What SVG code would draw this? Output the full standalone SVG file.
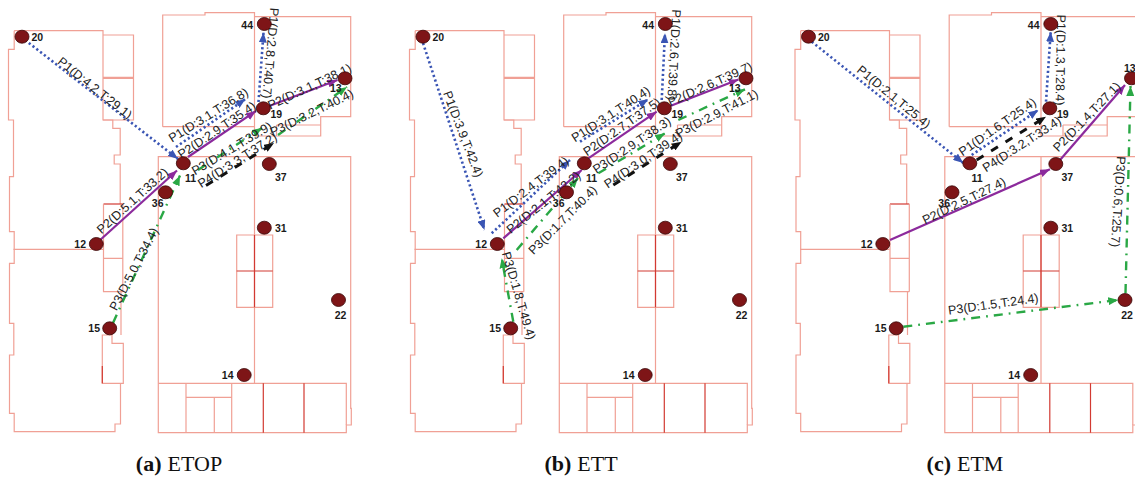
<svg xmlns="http://www.w3.org/2000/svg" xmlns:xlink="http://www.w3.org/1999/xlink" width="1135" height="480" viewBox="0 0 1135 480">
<style>
.w{fill:none;stroke:#f0a095;stroke-width:1.2}
.d{fill:none;stroke:#d23a32;stroke-width:1.2}
.n ellipse{fill:#7e1517;stroke:#3a0808;stroke-width:0.8}
.n text{font-family:"Liberation Sans",Arial,sans-serif;font-size:10.5px;font-weight:bold;fill:#1a1a1a}
.lb{font-family:"Liberation Sans",Arial,sans-serif;font-size:12.5px;fill:#222;text-anchor:middle}
.p1{fill:none;stroke:#3a55b4;stroke-width:2.6;stroke-dasharray:2.2 2.6;marker-end:url(#mb)}
.p2{fill:none;stroke:#8c2a9c;stroke-width:2.2;marker-end:url(#mp)}
.p3{fill:none;stroke:#2aa845;stroke-width:2.4;stroke-dasharray:9 6 1.8 6;marker-end:url(#mg)}
.p4{fill:none;stroke:#111;stroke-width:3;stroke-dasharray:8 9;marker-end:url(#mk)}
.cap{font-family:"Liberation Serif","Times New Roman",serif;font-size:22px;fill:#111;text-anchor:middle}
</style>
<defs>
<marker id="mb" viewBox="0 0 10 8" refX="10" refY="4" markerWidth="10" markerHeight="8" markerUnits="userSpaceOnUse" orient="auto"><path d="M0,0 L10,4 L0,8 z" fill="#3a55b4"/></marker>
<marker id="mp" viewBox="0 0 10 8" refX="10" refY="4" markerWidth="10" markerHeight="8" markerUnits="userSpaceOnUse" orient="auto"><path d="M0,0 L10,4 L0,8 z" fill="#8c2a9c"/></marker>
<marker id="mg" viewBox="0 0 10 8" refX="10" refY="4" markerWidth="10" markerHeight="8" markerUnits="userSpaceOnUse" orient="auto"><path d="M0,0 L10,4 L0,8 z" fill="#2aa845"/></marker>
<marker id="mk" viewBox="0 0 10 8" refX="10" refY="4" markerWidth="10" markerHeight="8" markerUnits="userSpaceOnUse" orient="auto"><path d="M0,0 L10,4 L0,8 z" fill="#111"/></marker>
<g id="plan">
<path class="w" d="M14.2,30.7 H103 V120 H112.8 V128.3 H120.2 V155 H114.2 V164 H120.2 V204"/>
<path class="w" d="M14.2,30.7 V49.3 H8.5 V120 H13.5 V176.7 H9.5 V231.7 H14.2 V263.3 H9.5 V323.3 H13.8 V355 H9.5 V413.3 H14.2 V431.7 H115 V424 H120.5 V383.3"/>
<path class="w" d="M13.5,249.3 H103"/>
<path class="w" d="M103,35 H133.5 V120 H103 M103,77.3 H133.5 M103,78.5 H133.5"/>
<path class="d" d="M103.5,204 H122.8"/>
<path class="w" d="M103.5,204 V291.7 H122.8 M103.5,258.3 H122.8 M122.8,204 V291.7 M121,291.7 V335"/>
<path class="w" d="M102.3,335 H112 V343.3 H123.3 V383.3 H102.3 Z"/>
<path class="d" d="M102.3,366 V383.3"/>
<path class="w" d="M162.7,126.7 V15 H205 V12.7 H254.5 V136"/>
<path class="w" d="M254.5,16.7 H350.7 V116.7 H320.7 V136 H254.5"/>
<path class="w" d="M162.7,126.7 H254.5 M276.5,125 H320.7 M276.5,125 V136"/>
<path class="w" d="M158.3,156.7 H350.7 V408.3 H351.3 V425 H346.3 V432.7 H158.3 Z"/>
<path class="w" d="M254.5,156.7 V383.3 M158.3,383.3 H346.3 V425 M186,383.3 V432.7 M231.7,383.3 V432.7 M186,397.3 H231.7 M214.3,397.3 V432.7"/>
<path class="d" d="M263.3,383.3 V432.7 M304,383.3 V432.7"/>
<path class="w" d="M236.7,235 H272.7 V307.3 H236.7 Z"/>
<path class="d" d="M254.5,235 V307.3 M236.7,271 H272.7"/>
</g>
</defs>
<rect width="1135" height="480" fill="#fff"/>
<g id="floorplans">
<use xlink:href="#plan" href="#plan"/>
<use xlink:href="#plan" href="#plan" transform="translate(401,0)"/>
<use xlink:href="#plan" href="#plan" transform="translate(786.5,0)"/>
</g>
<g id="connectors">
<g id="connectors-a">
<path class="p1" d="M25,40 L178,159"/>
<path class="p1" d="M176,147 L245.5,99"/>
<path class="p1" d="M258.5,102 L263.5,32.5"/>
<path class="p2" d="M99,241 L177,170.5"/>
<path class="p2" d="M188,157 L256,111"/>
<path class="p2" d="M268,106.5 L337.5,80"/>
<path class="p3" d="M113,323 L180,175.5"/>
<path class="p3" d="M198,170 L262,128"/>
<path class="p3" d="M278,135 L347,87"/>
<path class="p4" d="M206,185.5 L274,143"/>
<text class="lb" transform="translate(95,88) rotate(38.5)" y="4.4">P1(D:4.2,T:29.1)</text>
<text class="lb" transform="translate(208.3,115) rotate(-32)" y="4.4">P1(D:3.1,T:36.8)</text>
<text class="lb" transform="translate(270.7,53.3) rotate(95)" y="4.4">P1(D:2.8,T:40.7)</text>
<text class="lb" transform="translate(216.7,130) rotate(-34)" y="4.4">P2(D:2.9,T:35.4)</text>
<text class="lb" transform="translate(309.5,86.5) rotate(-25)" y="4.4">P2(D:3.1,T:38.1)</text>
<text class="lb" transform="translate(231.7,148.3) rotate(-31)" y="4.4">P3(D:4.1,T:39.9)</text>
<text class="lb" transform="translate(311.7,112.5) rotate(-26)" y="4.4">P3(D:3.2,T:40.4)</text>
<text class="lb" transform="translate(237.3,160) rotate(-32.5)" y="4.4">P4(D:3.3,T:37.2)</text>
<text class="lb" transform="translate(132.3,200.7) rotate(-42)" y="4.4">P2(D:5.1,T:33.2)</text>
<text class="lb" transform="translate(133.7,269) rotate(-62.5)" y="4.4">P3(D:5.0,T:34.4)</text>
</g>
<g id="connectors-b">
<path class="p1" d="M423,43 L484.5,230"/>
<path class="p1" d="M491.7,233.3 L570,160"/>
<path class="p1" d="M580,141.7 L648.3,99.3"/>
<path class="p1" d="M661.7,100 L665,33.3"/>
<path class="p2" d="M503.3,238.3 L581.7,170"/>
<path class="p2" d="M588.3,158.3 L656.7,111.7"/>
<path class="p2" d="M668.3,106.7 L738.5,79.5"/>
<path class="p3" d="M513.3,321.7 L501.7,258.3"/>
<path class="p3" d="M516.7,250 L578,178"/>
<path class="p3" d="M598.3,173.3 L665,133.3"/>
<path class="p3" d="M678.3,120 L745,89.3"/>
<path class="p4" d="M613.3,185 L681.7,141.7"/>
<text class="lb" transform="translate(463.3,134) rotate(69)" y="4.4">P1(D:3.9,T:42.4)</text>
<text class="lb" transform="translate(530.7,186.7) rotate(-37.5)" y="4.4">P1(D:2.4,T:39.4)</text>
<text class="lb" transform="translate(543.3,202.3) rotate(-39)" y="4.4">P2(D:2.1,T:42.2)</text>
<text class="lb" transform="translate(562.5,220) rotate(-45)" y="4.4">P3(D:1.7,T:40.4)</text>
<text class="lb" transform="translate(610.7,114) rotate(-33)" y="4.4">P1(D:3.1,T:40.4)</text>
<text class="lb" transform="translate(621.7,126.7) rotate(-35)" y="4.4">P2(D:2.7,T:37.5)</text>
<text class="lb" transform="translate(631.7,145) rotate(-34)" y="4.4">P3(D:2.9,T:38.3)</text>
<text class="lb" transform="translate(643,159.7) rotate(-34)" y="4.4">P4(D:3.0,T:39.4)</text>
<text class="lb" transform="translate(674.3,55) rotate(93)" y="4.4">P1(D:2.6,T:39.8)</text>
<text class="lb" transform="translate(710,84) rotate(-24)" y="4.4">P2(D:2.6,T:39.7)</text>
<text class="lb" transform="translate(716.7,113.3) rotate(-27)" y="4.4">P3(D:2.9,T:41.1)</text>
<text class="lb" transform="translate(519,295.7) rotate(73.5)" y="4.4">P3(D:1.8,T:49.4)</text>
</g>
<g id="connectors-c">
<path class="p1" d="M811.7,41.7 L963.3,163"/>
<path class="p1" d="M971.7,155 L1038.3,110"/>
<path class="p1" d="M1046,101.7 L1050.7,31.7"/>
<path class="p4" d="M976.7,160 L1046,116.7"/>
<path class="p2" d="M890,240 L1050,169.3"/>
<path class="p2" d="M1060,160 L1125,85"/>
<path class="p3" d="M1125.5,293 L1130.5,86"/>
<path class="p3" d="M903.3,326.7 L1118.3,300"/>
<text class="lb" transform="translate(894,96.7) rotate(39.5)" y="4.4">P1(D:2.1,T:25.4)</text>
<text class="lb" transform="translate(997.3,126.7) rotate(-35)" y="4.4">P1(D:1.6,T:25.4)</text>
<text class="lb" transform="translate(1021.7,144) rotate(-33)" y="4.4">P4(D:3.2,T:33.4)</text>
<text class="lb" transform="translate(1060.7,60) rotate(91)" y="4.4">P1(D:1.3,T:28.4)</text>
<text class="lb" transform="translate(964,200.7) rotate(-26)" y="4.4">P2(D:2.5,T:27.4)</text>
<text class="lb" transform="translate(1086.7,116.7) rotate(-46)" y="4.4">P2(D:1.4,T:27.1)</text>
<text class="lb" transform="translate(1118.3,201.7) rotate(94)" y="4.4">P3(D:0.6,T:25.7)</text>
<text class="lb" transform="translate(993.3,304) rotate(-8)" y="4.4">P3(D:1.5,T:24.4)</text>
</g>
</g>
<g id="nodes-a">
<g id="a-n20" class="n"><ellipse cx="22" cy="36.7" rx="7" ry="6.5"/><text x="31.5" y="40.5">20</text></g>
<g id="a-n44" class="n"><ellipse cx="264.3" cy="24" rx="7" ry="6.5"/><text x="253" y="28.8" text-anchor="end">44</text></g>
<g id="a-n13" class="n"><ellipse cx="345" cy="78.3" rx="7" ry="6.5"/><text x="330" y="92">13</text></g>
<g id="a-n19" class="n"><ellipse cx="263.3" cy="108.3" rx="7" ry="6.5"/><text x="270.5" y="118">19</text></g>
<g id="a-n11" class="n"><ellipse cx="183.3" cy="163.3" rx="7" ry="6.5"/><text x="185" y="182">11</text></g>
<g id="a-n37" class="n"><ellipse cx="269.3" cy="164" rx="7" ry="6.5"/><text x="275" y="180.5">37</text></g>
<g id="a-n36" class="n"><ellipse cx="165.5" cy="192.3" rx="7" ry="6.5"/><text x="163.5" y="206.5" text-anchor="end">36</text></g>
<g id="a-n31" class="n"><ellipse cx="264.3" cy="227.7" rx="7" ry="6.5"/><text x="275" y="231.5">31</text></g>
<g id="a-n12" class="n"><ellipse cx="96.3" cy="244" rx="7" ry="6.5"/><text x="86" y="248" text-anchor="end">12</text></g>
<g id="a-n15" class="n"><ellipse cx="109.7" cy="328.3" rx="7" ry="6.5"/><text x="100" y="332" text-anchor="end">15</text></g>
<g id="a-n22" class="n"><ellipse cx="338.5" cy="300" rx="7" ry="6.5"/><text x="340.5" y="319" text-anchor="middle">22</text></g>
<g id="a-n14" class="n"><ellipse cx="244.2" cy="375" rx="7" ry="6.5"/><text x="233.5" y="379" text-anchor="end">14</text></g>
</g>
<g id="nodes-b">
<g id="b-n20" class="n"><ellipse cx="423" cy="36.7" rx="7" ry="6.5"/><text x="432.5" y="40.5">20</text></g>
<g id="b-n44" class="n"><ellipse cx="665.3" cy="24" rx="7" ry="6.5"/><text x="654" y="28.8" text-anchor="end">44</text></g>
<g id="b-n13" class="n"><ellipse cx="746" cy="78.3" rx="7" ry="6.5"/><text x="729" y="92">13</text></g>
<g id="b-n19" class="n"><ellipse cx="664.3" cy="108.3" rx="7" ry="6.5"/><text x="671.5" y="118">19</text></g>
<g id="b-n11" class="n"><ellipse cx="584.3" cy="163.3" rx="7" ry="6.5"/><text x="586" y="182">11</text></g>
<g id="b-n37" class="n"><ellipse cx="670.3" cy="164" rx="7" ry="6.5"/><text x="676" y="180.5">37</text></g>
<g id="b-n36" class="n"><ellipse cx="566.5" cy="192.3" rx="7" ry="6.5"/><text x="564.5" y="206.5" text-anchor="end">36</text></g>
<g id="b-n31" class="n"><ellipse cx="665.3" cy="227.7" rx="7" ry="6.5"/><text x="676" y="231.5">31</text></g>
<g id="b-n12" class="n"><ellipse cx="497.3" cy="244" rx="7" ry="6.5"/><text x="487" y="248" text-anchor="end">12</text></g>
<g id="b-n15" class="n"><ellipse cx="510.7" cy="328.3" rx="7" ry="6.5"/><text x="501" y="332" text-anchor="end">15</text></g>
<g id="b-n22" class="n"><ellipse cx="739.5" cy="300" rx="7" ry="6.5"/><text x="741.5" y="319" text-anchor="middle">22</text></g>
<g id="b-n14" class="n"><ellipse cx="645.2" cy="375" rx="7" ry="6.5"/><text x="634.5" y="379" text-anchor="end">14</text></g>
</g>
<g id="nodes-c">
<g id="c-n20" class="n"><ellipse cx="808.5" cy="36.7" rx="7" ry="6.5"/><text x="818" y="40.5">20</text></g>
<g id="c-n44" class="n"><ellipse cx="1050.8" cy="24" rx="7" ry="6.5"/><text x="1039.5" y="28.8" text-anchor="end">44</text></g>
<g id="c-n13" class="n"><ellipse cx="1131.5" cy="78.3" rx="7" ry="6.5"/><text x="1124" y="72">13</text></g>
<g id="c-n19" class="n"><ellipse cx="1049.8" cy="108.3" rx="7" ry="6.5"/><text x="1057" y="118">19</text></g>
<g id="c-n11" class="n"><ellipse cx="969.8" cy="163.3" rx="7" ry="6.5"/><text x="971.5" y="182">11</text></g>
<g id="c-n37" class="n"><ellipse cx="1055.8" cy="164" rx="7" ry="6.5"/><text x="1061.5" y="180.5">37</text></g>
<g id="c-n36" class="n"><ellipse cx="952" cy="192.3" rx="7" ry="6.5"/><text x="950" y="206.5" text-anchor="end">36</text></g>
<g id="c-n31" class="n"><ellipse cx="1050.8" cy="227.7" rx="7" ry="6.5"/><text x="1061.5" y="231.5">31</text></g>
<g id="c-n12" class="n"><ellipse cx="882.8" cy="244" rx="7" ry="6.5"/><text x="872.5" y="248" text-anchor="end">12</text></g>
<g id="c-n15" class="n"><ellipse cx="896.2" cy="328.3" rx="7" ry="6.5"/><text x="886.5" y="332" text-anchor="end">15</text></g>
<g id="c-n22" class="n"><ellipse cx="1125" cy="300" rx="7" ry="6.5"/><text x="1127" y="319" text-anchor="middle">22</text></g>
<g id="c-n14" class="n"><ellipse cx="1030.7" cy="375" rx="7" ry="6.5"/><text x="1020" y="379" text-anchor="end">14</text></g>
</g>
<g id="captions">
<text class="cap" x="179" y="471"><tspan font-weight="bold">(a)</tspan><tspan dx="6">ETOP</tspan></text>
<text class="cap" x="581" y="471"><tspan font-weight="bold">(b)</tspan><tspan dx="6">ETT</tspan></text>
<text class="cap" x="965" y="471"><tspan font-weight="bold">(c)</tspan><tspan dx="6">ETM</tspan></text>
</g>
</svg>
